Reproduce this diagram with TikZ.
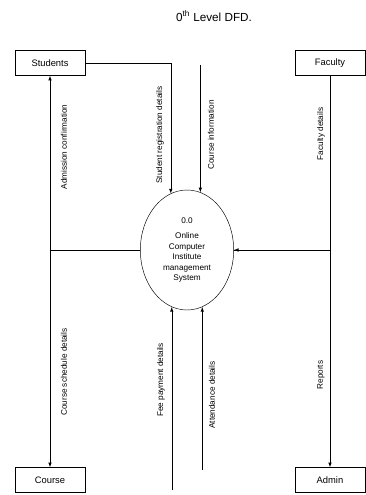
\documentclass[tikz,border=0pt]{standalone}
\usepackage{fontspec}
\setmainfont{Liberation Sans}
\usetikzlibrary{shapes.geometric,arrows}

\begin{document}
\begin{tikzpicture}[x=0.3mm,y=-0.3mm, every node/.style={font=\footnotesize},
  entity/.style={draw,minimum width=21mm,minimum height=7.5mm,inner sep=1pt},
  flow/.style={draw,-latex}, lbl/.style={font=\scriptsize,inner sep=1pt,rotate=90}]
  \useasboundingbox (0,0) rectangle (366,495);
  \node[font=\normalsize] (title) at (214,16) {0\textsuperscript{th} Level DFD.};
  \node[entity] (stu) at (50,63) {Students};
  \node[entity] (fac) at (330,63) {Faculty};
  \node[entity] (crs) at (50,480) {Course};
  \node[entity] (adm) at (330,480) {Admin};
  \node[draw,ellipse,minimum width=28mm,minimum height=36mm,inner sep=0pt,
        align=center,font=\scriptsize] (sys) at (187,250)
        {0.0\\[5pt] Online\\[1pt] Computer\\[1pt] Institute\\[1pt] management\\[1pt] System};
  \coordinate (ctop) at (sys.77 |- 0,65);
  \coordinate (cb1) at (sys.-105 |- 0,490);
  \coordinate (cb2) at (sys.-75 |- 0,470);
  \draw[flow] (stu.east) -| (sys.106);
  \draw[flow] (ctop) -- (sys.77);
  \draw[flow] (sys.west) -| (stu.south);
  \draw[flow] (sys.west) -| (crs.north);
  \draw[flow] (fac.south) |- (sys.east);
  \draw[flow] (sys.east) -| (adm.north);
  \draw[flow] (cb1) -- (sys.-105);
  \draw[flow] (cb2) -- (sys.-75);
  \node[lbl] (lstu) at (64,147) {Admission confirmation};
  \node[lbl] (ltop1) at (160,135) {Student registration details};
  \node[lbl] (ltop2) at (211,135) {Course information};
  \node[lbl] (lfac) at (321,134) {Faculty details};
  \node[lbl] (lcrs) at (64,372) {Course schedule details};
  \node[lbl] (lbot1) at (161,380) {Fee payment details};
  \node[lbl] (lbot2) at (212,395) {Attendance details};
  \node[lbl] (ladm) at (321,375) {Reports};
\end{tikzpicture}
\end{document}
